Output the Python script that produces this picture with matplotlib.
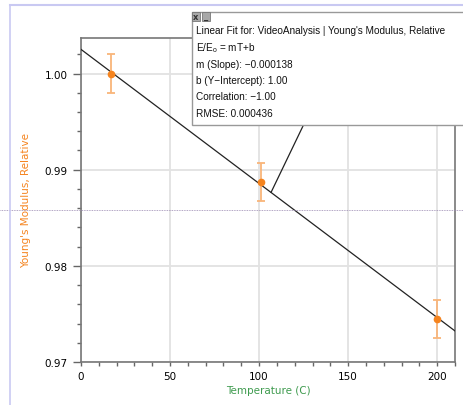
import numpy as np
import matplotlib
matplotlib.use("Agg")
from matplotlib import pyplot as plt
from matplotlib.lines import Line2D
from matplotlib.patches import Rectangle
from matplotlib.transforms import blended_transform_factory

# data
temperature = [17, 101, 200]
modulus = [1.000, 0.9887, 0.9745]
modulus_err = [0.002, 0.002, 0.002]
x_ticks = [0, 50, 100, 150, 200]
y_ticks = [0.97, 0.98, 0.99, 1.00]
guide_level = 0.9858
fit_lines = [
    "Linear Fit for: VideoAnalysis | Young's Modulus, Relative",
    "E/E$_\\mathregular{o}$ = mT+b",
    "m (Slope): \u22120.000138",
    "b (Y\u2212Intercept): 1.00",
    "Correlation: \u22121.00",
    "RMSE: 0.000436",
]

W, H = 464, 406
fig = plt.figure(figsize=(W / 100, H / 100), dpi=100)
ax = fig.add_axes([81 / W, (H - 363) / H, (455 - 81) / W, (363 - 39) / H])

orange = "#f5841f"
light_orange = "#f9b57a"
green = "#3f9b4f"
lavender = "#c9c9f2"

# linear fit
slope, intercept = np.polyfit(temperature, modulus, 1)
xs = np.array([0, 210])
ax.plot(xs, slope * xs + intercept, color="#222222", lw=0.9, zorder=3)

ax.errorbar(temperature, modulus, yerr=modulus_err, fmt="o", color=orange,
            ms=4.5, ecolor=light_orange, elinewidth=1.3, capsize=3,
            capthick=1.3, zorder=4)

ax.set_xlim(0, 210)
ax.set_ylim(0.97, 1.0037)
ax.set_xticks(x_ticks)
ax.set_xticks(np.arange(0, 211, 10), minor=True)
ax.set_yticks(y_ticks)
ax.set_yticks(np.arange(0.97, 1.0037, 0.002), minor=True)
ax.set_yticklabels(["%.2f" % v for v in y_ticks])
ax.grid(True, which="major", color="#e2e2e2", lw=1.3, zorder=0)
ax.set_axisbelow(True)
ax.tick_params(axis="both", which="both", colors="#666666", labelcolor="black",
               labelsize=7.5, width=1.0)
ax.tick_params(axis="y", which="major", length=6)
ax.tick_params(axis="y", which="minor", length=3)
ax.tick_params(axis="x", which="both", length=3)
for s in ax.spines.values():
    s.set_color("#777777")
    s.set_linewidth(1.2)

ax.set_xlabel("Temperature (C)", color=green, fontsize=7.5, labelpad=3)
ax.set_ylabel("Young's Modulus, Relative", color=orange, fontsize=7.5, labelpad=10)

# dotted guide line across the whole panel
tr = blended_transform_factory(fig.transFigure, ax.transData)
fig.add_artist(Line2D([0, 1], [guide_level, guide_level], transform=tr,
                      color="#9886b0", lw=0.6, ls=(0, (1, 1))))

# panel frame
fig.add_artist(Line2D([10 / W, 10 / W], [0, 1 - 6 / H], color=lavender, lw=1.2))
fig.add_artist(Line2D([10 / W, 1], [1 - 6 / H, 1 - 6 / H], color=lavender, lw=1.5))

# fit info box
bx0, by0, by1 = 192, 13, 126
fig.add_artist(Rectangle((bx0 / W, 1 - by1 / H), (W - bx0 + 5) / W, (by1 - by0) / H,
                         transform=fig.transFigure, facecolor="white",
                         edgecolor="#999999", lw=1.0, zorder=5))
for i, b in enumerate(["x", "_"]):
    bx = bx0 + i * 10
    fig.add_artist(Rectangle((bx / W, 1 - 22 / H), 8 / W, 9 / H,
                             transform=fig.transFigure, facecolor="#a8a8a8",
                             edgecolor="#777777", lw=0.6, zorder=6))
    fig.text((bx + 4) / W, 1 - 17.5 / H, b, fontsize=6, ha="center", va="center",
             color="#333333", zorder=7, fontweight="bold")
for i, line in enumerate(fit_lines):
    fig.text(196 / W, 1 - (31.5 + i * 16.5) / H, line, fontsize=7.2, ha="left",
             va="center", color="#111111", zorder=7,
             family=["Liberation Sans", "DejaVu Sans"])

# connector from the fit line to the box
x_anchor = 106.7
ax.annotate("", xy=(x_anchor, slope * x_anchor + intercept),
            xytext=(303, H - 127), textcoords="figure pixels",
            arrowprops=dict(arrowstyle="-", color="#222222", lw=0.9,
                            shrinkA=0, shrinkB=0), zorder=4)

fig.savefig("out.png", dpi=100)
